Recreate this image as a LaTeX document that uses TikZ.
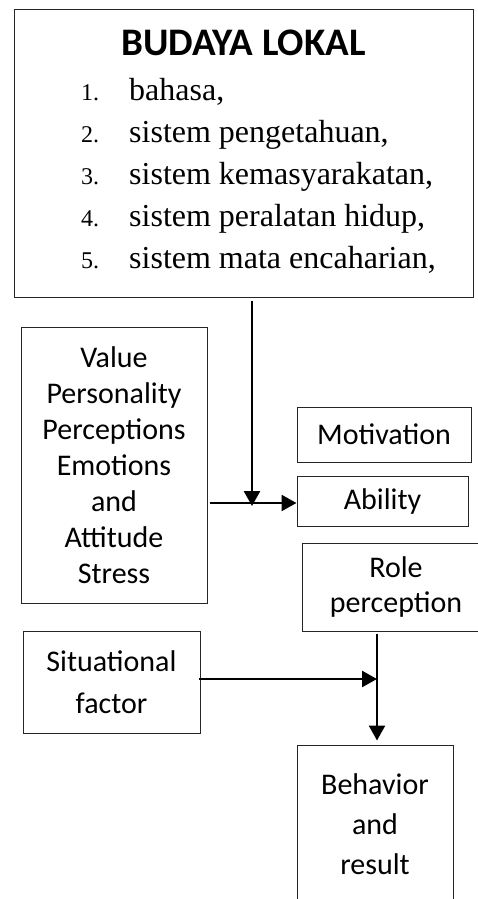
\documentclass[tikz,border=0pt]{standalone}
\usepackage{fontspec}
\setmainfont{Carlito}
\newfontfamily\listfont{Liberation Serif}
\usetikzlibrary{arrows.meta}
\tikzset{
  BoxStyle/.style = { rectangle, draw = black!85, line width = 1pt,
                      align = center, inner sep = 0pt,
                      font = \fontsize{30}{#1}\selectfont },
  BoxStyle/.default = 36,
  EdgeStyle/.style = { -{Triangle[length=15pt,width=16pt]},
                       line width = 2.5pt } }
\newcommand{\num}[1]{{\fontsize{24}{24}\selectfont #1}}

\begin{document}
\begin{tikzpicture}[x=1pt,y=-1pt]
  \clip (0,0) rectangle (478,899);
  \node[BoxStyle, minimum width=459pt, minimum height=287pt,
        font=\fontsize{39}{45}\selectfont](BL) at (243.5,153.5)
    {\rule{0pt}{29pt}{\bfseries BUDAYA LOKAL}\\
     \hspace*{30pt}{\listfont\fontsize{32}{42}\selectfont
     \begin{tabular}[t]{@{}l@{\hspace{30pt}}l@{}}
       \num{1.} & bahasa,\\
       \num{2.} & sistem pengetahuan,\\
       \num{3.} & sistem kemasyarakatan,\\
       \num{4.} & sistem peralatan hidup,\\
       \num{5.} & sistem mata encaharian,
     \end{tabular}}};
  \node[BoxStyle, minimum width=186pt, minimum height=276pt](V) at (114,465)
    {Value\\Personality\\Perceptions\\Emotions\\and\\Attitude\\Stress};
  \node[BoxStyle, minimum width=174pt, minimum height=55pt](M) at (384,434.5) {Motivation};
  \node[BoxStyle, minimum width=171pt, minimum height=50pt](A) at (382.5,501) {Ability};
  \node[BoxStyle=35, minimum width=188pt, minimum height=88pt](R) at (396,587) {Role\\perception};
  \node[BoxStyle=42, minimum width=177pt, minimum height=102pt](S) at (111.5,682) {Situational\\factor};
  \node[BoxStyle=40, minimum width=156pt, minimum height=158pt](B) at (375,824) {Behavior\\and\\result};
  %\coordinate (J0) at (252,300);
  \coordinate (J1) at (252,503);
  \coordinate (J2) at (377,679);
  \draw[EdgeStyle, shorten <=3pt, shorten >=-3pt] (BL.south -| J1) -- (J1);
  \draw[EdgeStyle, shorten <=2pt] (V.east |- J1) -- (A.west |- J1);
  \draw[EdgeStyle, shorten <=-2pt] (S.east |- J2) -- (J2);
  \draw[EdgeStyle, shorten <=2pt, shorten >=4pt] (R.south -| J2) -- (B.north -| J2);
\end{tikzpicture}
\end{document}
